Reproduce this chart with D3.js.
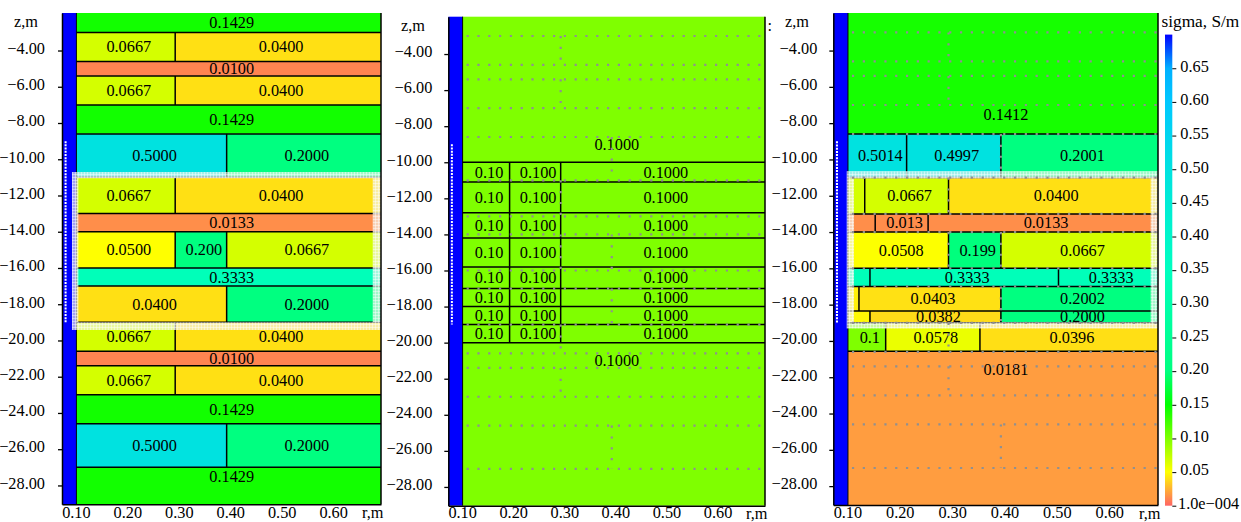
<!DOCTYPE html>
<html>
<head>
<meta charset="utf-8">
<script src="https://cdn.jsdelivr.net/npm/d3@7"></script>
<style>
  body { margin: 0; background: #fff; }
  text { font-family: "Liberation Serif", serif; font-size: 16.3px; fill: #000; }
</style>
</head>
<body>
<svg id="chart" width="1241" height="522"></svg>
<script>
// axis ticks
const zTicks = [-4, -6, -8, -10, -12, -14, -16, -18, -20, -22, -24, -26, -28];
const rTicks = [0.1, 0.2, 0.3, 0.4, 0.5, 0.6];
const sigmaTicks = [0.0001, 0.05, 0.1, 0.15, 0.2, 0.25, 0.3, 0.35, 0.4, 0.45, 0.5, 0.55, 0.6, 0.65];

// colour scale of the bar
const sigmaStops = [0, 0.05, 0.15, 0.2, 0.35, 0.5, 0.6, 0.65, 0.7];
const sigmaColors = ["#ff6565", "#ffff00", "#00ff00", "#00ff80", "#00ffc0", "#00e2e0", "#00c8ff", "#00b0ff", "#0000ff"];

// left panel: true model
const modelZ = [-1.93, -3, -4.6, -5.4, -7, -8.6, -11, -13, -14, -16, -17, -19, -20.6, -21.4, -23, -24.6, -27, -29.04];
const modelDivs = [[], [0.3], [], [0.3], [], [0.4], [0.3], [], [0.3, 0.4], [], [0.4], [0.3], [], [0.3], [], [0.4], []];
const modelSigma = [[0.1429], [0.0667, 0.04], [0.01], [0.0667, 0.04], [0.1429], [0.5, 0.2], [0.0667, 0.04], [0.0133],
  [0.05, 0.2, 0.0667], [0.3333], [0.04, 0.2], [0.0667, 0.04], [0.01], [0.0667, 0.04], [0.1429], [0.5, 0.2], [0.1429]];
const modelLabels = [["0.1429"], ["0.0667", "0.0400"], ["0.0100"], ["0.0667", "0.0400"], ["0.1429"], ["0.5000", "0.2000"],
  ["0.0667", "0.0400"], ["0.0133"], ["0.0500", "0.200", "0.0667"], ["0.3333"], ["0.0400", "0.2000"], ["0.0667", "0.0400"],
  ["0.0100"], ["0.0667", "0.0400"], ["0.1429"], ["0.5000", "0.2000"], ["0.1429"]];

// middle panel: start model
const startZ = [-1.93, -10, -11.1, -12.8, -14.2, -15.8, -17, -18, -19, -20, -29.04];
const startDivs = [[], [0.2, 0.3], [0.2, 0.3], [0.2, 0.3], [0.2, 0.3], [0.2, 0.3], [0.2, 0.3], [0.2, 0.3], [0.2, 0.3], []];
const startSigma = [[0.1], [0.1, 0.1, 0.1], [0.1, 0.1, 0.1], [0.1, 0.1, 0.1], [0.1, 0.1, 0.1], [0.1, 0.1, 0.1],
  [0.1, 0.1, 0.1], [0.1, 0.1, 0.1], [0.1, 0.1, 0.1], [0.1]];
const startLabels = [["0.1000"], ["0.10", "0.100", "0.1000"], ["0.10", "0.100", "0.1000"], ["0.10", "0.100", "0.1000"],
  ["0.10", "0.100", "0.1000"], ["0.10", "0.100", "0.1000"], ["0.10", "0.100", "0.1000"], ["0.10", "0.100", "0.1000"],
  ["0.10", "0.100", "0.1000"], ["0.1000"]];

// right panel: inversion result
const resultZ = [-1.93, -8.6, -11, -13, -14, -16, -17, -18.35, -19, -20.57, -29.04];
const resultDivs = [[], [0.22, 0.4], [0.14, 0.3], [0.16, 0.261], [0.3, 0.4], [0.15, 0.51], [0.129, 0.4], [0.15, 0.4], [0.18, 0.36], []];
const resultSigma = [[0.1412], [0.5014, 0.4997, 0.2001], [0.0667, 0.0667, 0.04], [0.0133, 0.013, 0.0133], [0.0508, 0.199, 0.0667],
  [0.3333, 0.3333, 0.3333], [0.045, 0.0403, 0.2002], [0.048, 0.0382, 0.2], [0.1, 0.0578, 0.0396], [0.0181]];
const resultLabels = [["0.1412"], ["0.5014", "0.4997", "0.2001"], ["", "0.0667", "0.0400"], ["", "0.013", "0.0133"], ["0.0508", "0.199", "0.0667"],
  ["", "0.3333", "0.3333"], ["", "0.0403", "0.2002"], ["", "0.0382", "0.2000"], ["0.1", "0.0578", "0.0396"], ["0.0181"]];

const wellR = 0.108;
const rDomain = [0.08, 0.7];
const toolR = 0.087;
const toolZ = [-9, -19];

var svg = d3.select("#chart");
var color = d3.scaleLinear().domain(sigmaStops).range(sigmaColors);

var defs = svg.append("defs");
var lattice = defs.append("pattern")
    .attr("id", "lattice")
    .attr("width", 3)
    .attr("height", 3)
    .attr("patternUnits", "userSpaceOnUse");
lattice.append("rect").attr("width", 3).attr("height", 3).attr("fill", "#f4f4f0").attr("fill-opacity", 0.66);
lattice.append("rect").attr("width", 3).attr("height", 1).attr("fill", "#fff").attr("fill-opacity", 0.45);
lattice.append("rect").attr("width", 1).attr("height", 3).attr("fill", "#fff").attr("fill-opacity", 0.45);

function cellsOf(zEdges, divs, sigma, labels) {
    let cells = [];
    sigma.forEach(function (row, i) {
        let edges = [wellR].concat(divs[i], [rDomain[1]]);
        row.forEach(function (s, j) {
            cells.push({ z0: zEdges[i], z1: zEdges[i + 1], r0: edges[j], r1: edges[j + 1], sigma: s, label: labels[i][j] });
        });
    });
    return cells;
}

function drawPanel(p) {
    let x = d3.scaleLinear().domain(rDomain).range([p.left, p.right]);
    let y = d3.scaleLinear().domain([-1.93, -29.04]).range([p.top, p.bottom]);
    let g = svg.append("g");
    let cells = cellsOf(p.z, p.divs, p.sigma, p.labels);

    // well
    g.append("rect")
        .attr("x", x(rDomain[0]))
        .attr("y", y(-1.93))
        .attr("width", x(wellR) - x(rDomain[0]))
        .attr("height", y(-29.04) - y(-1.93))
        .attr("fill", "#0000ff");

    g.selectAll("rect.cell")
        .data(cells)
        .enter()
        .append("rect")
        .attr("class", "cell")
        .attr("x", function (d) { return x(d.r0); })
        .attr("y", function (d) { return y(d.z0); })
        .attr("width", function (d) { return x(d.r1) - x(d.r0); })
        .attr("height", function (d) { return y(d.z1) - y(d.z0); })
        .attr("fill", function (d) { return color(d.sigma); });

    // layer borders
    g.selectAll("line.layer")
        .data(p.z.slice(1, -1))
        .enter()
        .append("line")
        .attr("class", "layer")
        .attr("x1", x(wellR))
        .attr("x2", x(rDomain[1]))
        .attr("y1", function (d) { return y(d); })
        .attr("y2", function (d) { return y(d); })
        .attr("stroke", "#000")
        .attr("stroke-width", 1.5);

    g.selectAll("line.div")
        .data(cells.filter(function (d) { return d.r0 > wellR; }))
        .enter()
        .append("line")
        .attr("class", "div")
        .attr("x1", function (d) { return x(d.r0); })
        .attr("x2", function (d) { return x(d.r0); })
        .attr("y1", function (d) { return y(d.z0); })
        .attr("y2", function (d) { return y(d.z1); })
        .attr("stroke", "#000")
        .attr("stroke-width", 1.5);

    g.append("line")
        .attr("x1", x(wellR))
        .attr("x2", x(wellR))
        .attr("y1", y(-1.93))
        .attr("y2", y(-29.04))
        .attr("stroke", "#000")
        .attr("stroke-width", 1);

    // cell values, a few are not centred in the original
    g.selectAll("text.value")
        .data(cells.filter(function (d) { return d.label; }))
        .enter()
        .append("text")
        .attr("class", "value")
        .attr("text-anchor", "middle")
        .attr("x", function (d) { return (x(d.r0) + x(d.r1)) / 2 + 3; })
        .attr("y", function (d) {
            let c = p.labelZ[d.z0] !== undefined ? y(p.labelZ[d.z0]) : (y(d.z0) + y(d.z1)) / 2;
            return c + 5.5;
        })
        .text(function (d) { return d.label; });

    // logging tool on the axis of the well
    g.append("line")
        .attr("x1", x(toolR))
        .attr("x2", x(toolR))
        .attr("y1", y(toolZ[0]))
        .attr("y2", y(toolZ[1]))
        .attr("stroke", "#fff")
        .attr("stroke-width", 2)
        .attr("stroke-dasharray", "2 1.2");

    // inverted zone frame
    if (p.ring) {
        let o = p.ring.outer, n = p.ring.inner;
        g.append("path")
            .attr("fill", "url(#lattice)")
            .attr("fill-rule", "evenodd")
            .attr("d", "M" + x(o[0]) + "," + y(o[2]) + "H" + x(o[1]) + "V" + y(o[3]) + "H" + x(o[0]) + "Z"
                + "M" + x(n[0]) + "," + y(n[2]) + "H" + x(n[1]) + "V" + y(n[3]) + "H" + x(n[0]) + "Z");
    }

    // true model drawn as grey dots
    if (p.dots) {
        let dots = g.append("g")
            .attr("stroke", "#909090")
            .attr("stroke-width", 2.2)
            .attr("stroke-dasharray", "2.2 8.6");
        dots.selectAll("line.dz")
            .data(modelZ.slice(1, -1))
            .enter()
            .append("line")
            .attr("class", "dz")
            .attr("stroke-dashoffset", -4)
            .attr("x1", x(wellR))
            .attr("x2", x(rDomain[1]))
            .attr("y1", function (d) { return y(d); })
            .attr("y2", function (d) { return y(d); });
        dots.selectAll("line.dr")
            .data(cellsOf(modelZ, modelDivs, modelSigma, modelLabels).filter(function (d) { return d.r0 > wellR; }))
            .enter()
            .append("line")
            .attr("class", "dr")
            .attr("x1", function (d) { return x(d.r0); })
            .attr("x2", function (d) { return x(d.r0); })
            .attr("y1", function (d) { return y(d.z0); })
            .attr("y2", function (d) { return y(d.z1); });
    }

    // axes
    let yAxis = g.append("g")
        .attr("transform", "translate(" + p.left + ",0)")
        .call(d3.axisLeft(y).tickValues(zTicks).tickSize(4).tickSizeOuter(0).tickPadding(p.yPad).tickFormat(function (d) {
            return d3.format(".2f")(d).replace("-", "\u2212");
        }));
    let xAxis = g.append("g")
        .attr("transform", "translate(0," + p.bottom + ")")
        .call(d3.axisBottom(x).tickValues(rTicks).tickSize(0).tickPadding(p.xPad).tickFormat(d3.format(".2f")));
    [yAxis, xAxis].forEach(function (a) {
        a.attr("font-family", null).attr("font-size", null);
        a.select(".domain").attr("stroke-width", 1.5);
    });
    yAxis.selectAll("line").attr("stroke-width", 1.3);
    yAxis.selectAll("text").attr("dy", "0.17em");
    xAxis.selectAll("text").attr("dx", 3.6);

    g.append("line")
        .attr("x1", p.right)
        .attr("x2", p.right)
        .attr("y1", p.top)
        .attr("y2", p.bottom)
        .attr("stroke", "#000")
        .attr("stroke-width", 1.5);

    g.append("text").attr("x", p.zLabel[0]).attr("y", p.zLabel[1]).text("z,m");
    g.append("text").attr("x", p.rLabel).attr("y", p.bottom + p.xPad + 11.6).text("r,m");
}

drawPanel({
    left: 62, right: 381, top: 13, bottom: 504.3, yPad: 13, xPad: 2.5,
    z: modelZ, divs: modelDivs, sigma: modelSigma, labels: modelLabels,
    labelZ: { "-27": -27.53 },
    ring: { outer: [0.0994, 0.7, -10.7, -19.42], inner: [0.1117, 0.684, -11.05, -19] },
    dots: false,
    zLabel: [14, 27], rLabel: 362
});

drawPanel({
    left: 448.3, right: 765, top: 16.7, bottom: 505.7, yPad: 12, xPad: 1.2,
    z: startZ, divs: startDivs, sigma: startSigma, labels: startLabels,
    labelZ: { "-1.93": -9.04, "-20": -21 },
    ring: null,
    dots: true,
    zLabel: [401, 31], rLabel: 746
});

drawPanel({
    left: 833.3, right: 1158, top: 13, bottom: 505, yPad: 12, xPad: 1.9,
    z: resultZ, divs: resultDivs, sigma: resultSigma, labels: resultLabels,
    labelZ: { "-1.93": -7.55, "-20.57": -21.57 },
    ring: { outer: [0.1056, 0.7, -10.65, -19.32], inner: [0.1195, 0.686, -11.05, -18.97] },
    dots: true,
    zLabel: [785, 27], rLabel: 1139
});

// clipped remains of the bar title next to the middle panel
svg.append("text").attr("x", 767.5).attr("y", 31).text(":");

// colour bar
var barY = d3.scaleLinear().domain([0.0001, 0.7]).range([505.7, 34.6]);
var grad = defs.append("linearGradient")
    .attr("id", "sigmaBar")
    .attr("x1", 0).attr("x2", 0).attr("y1", 1).attr("y2", 0);
grad.selectAll("stop")
    .data(sigmaStops)
    .enter()
    .append("stop")
    .attr("offset", function (d) { return d / 0.7; })
    .attr("stop-color", function (d) { return color(d); });

svg.append("rect")
    .attr("x", 1165)
    .attr("y", barY(0.7))
    .attr("width", 7.3)
    .attr("height", barY(0.0001) - barY(0.7))
    .attr("fill", "url(#sigmaBar)");

var barAxis = svg.append("g")
    .attr("transform", "translate(1172.3,0)")
    .call(d3.axisRight(barY).tickValues(sigmaTicks).tickSize(4).tickPadding(4).tickFormat(function (d) {
        return d < 0.01 ? "1.0e\u2212004" : d3.format(".2f")(d);
    }));
barAxis.attr("font-family", null).attr("font-size", null);
barAxis.select(".domain").remove();
barAxis.selectAll("text").attr("dy", "0.17em");
// the lowest label starts right at its tick in the original
barAxis.selectAll(".tick text").filter(function (d) { return d < 0.01; }).attr("x", 5.7).attr("dy", "0.2em");

svg.append("text").attr("x", 1161.5).attr("y", 27).style("font-size", "17.3px").text("sigma, S/m");
</script>
</body>
</html>
